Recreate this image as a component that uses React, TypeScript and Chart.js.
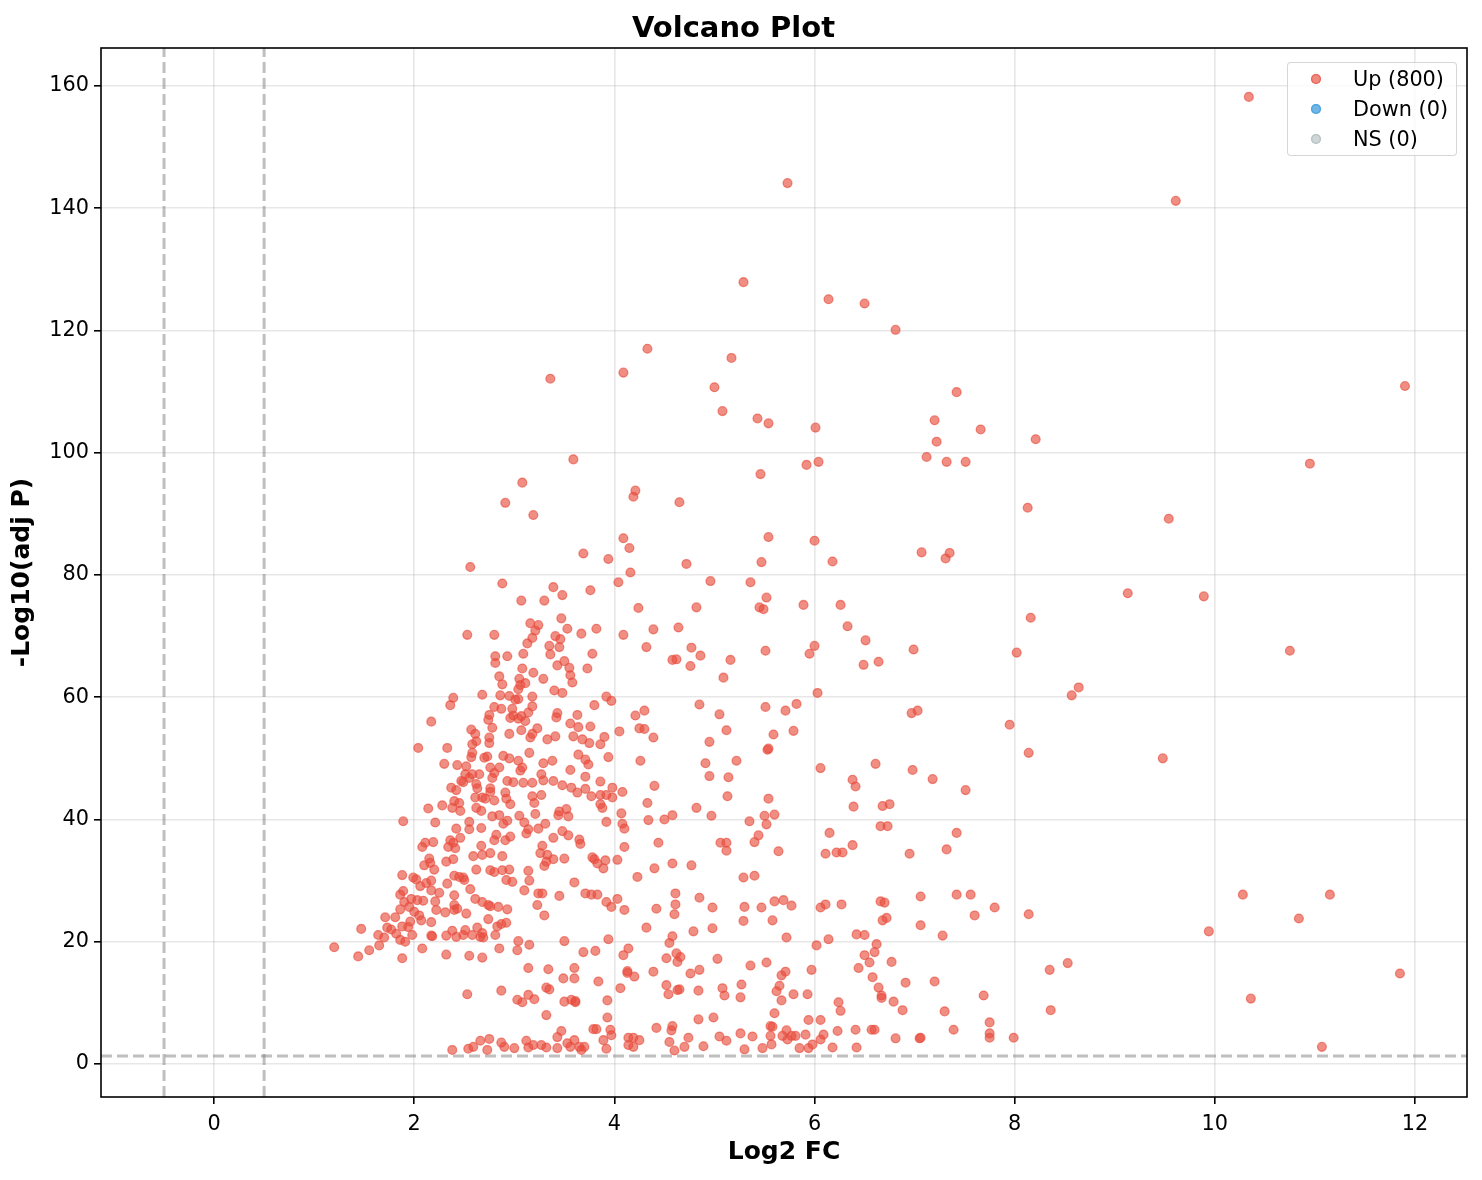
import React, { useEffect, useRef } from 'react';
import { Chart, registerables } from 'chart.js';

Chart.register(...registerables);

// axis setup
const xTicks = [0, 2, 4, 6, 8, 10, 12];
const yTicks = [0, 20, 40, 60, 80, 100, 120, 140, 160];
const xRange = [-1.13, 12.52];
const yRange = [-5.4, 166.2];
const fcCutoffs = [-0.5, 0.5];
const pCutoff = 1.301;

const legendLabels = ['Up (800)', 'Down (0)', 'NS (0)'];
const legendColors = ['rgba(231,76,60,0.65)', 'rgba(52,152,219,0.7)', 'rgba(149,165,166,0.45)'];

type Pt = [number, number];

// Up-regulated genes, [log2FC, -log10(adj p)]
const upHigh: Pt[] = [
  [10.34, 158.2], [9.61, 141.2], [5.73, 144.1], [5.29, 127.9], [6.14, 125.1], [6.5, 124.4], [6.81, 120.1],
  [4.33, 117], [5.17, 115.5], [3.36, 112.1], [4.09, 113.1], [5.0, 110.7], [5.08, 106.8], [5.43, 105.6],
  [5.54, 104.8], [6.01, 104.1], [7.42, 109.9], [7.2, 105.3], [7.66, 103.8], [7.22, 101.8], [7.12, 99.3],
  [7.32, 98.5], [7.51, 98.5], [5.92, 98], [6.04, 98.5], [5.46, 96.5], [3.59, 98.9], [3.08, 95.1],
  [2.91, 91.8], [3.19, 89.8], [4.21, 93.8], [4.19, 92.8], [4.65, 91.9], [4.09, 86], [5.54, 86.2], [6.0, 85.6],
  [11.9, 110.9], [10.95, 98.2], [9.54, 89.2], [8.13, 91], [8.21, 102.2],
];

const upCoreUpper: Pt[] = [
  [2.56, 81.3], [2.88, 78.6], [3.69, 83.5], [3.94, 82.6], [4.15, 84.4], [4.16, 80.4], [4.04, 78.8], [3.39, 78],
  [3.48, 76.7], [3.76, 77.5], [3.07, 75.8], [3.3, 75.8], [4.24, 74.6], [3.16, 72.1], [3.24, 71.8], [3.21, 70.9],
  [3.47, 72.9], [3.53, 71.2], [3.67, 70.4], [3.82, 71.2], [4.09, 70.2], [4.39, 71.1], [2.53, 70.2], [2.8, 70.2],
  [3.18, 69.7], [3.13, 68.8], [3.41, 70], [3.46, 69.5], [3.35, 68.4], [3.45, 68.2], [3.36, 67], [3.78, 67.1],
  [4.32, 68.2], [2.81, 66.7], [2.81, 65.6], [2.93, 66.7], [3.09, 67.1], [3.08, 64.7], [3.19, 64], [3.29, 63],
  [3.43, 65.2], [3.5, 65.9], [3.55, 64.8], [3.56, 63.6], [3.58, 62.4], [3.73, 64.7], [2.85, 63.4], [2.88, 62.1],
  [3.05, 63], [3.06, 62], [3.11, 62.3], [3.04, 61.3], [3.4, 61.1], [3.48, 60.7], [2.39, 59.9], [2.36, 58.7],
  [2.68, 60.4], [2.86, 60.3], [2.95, 60.2], [3.01, 59.6], [3.04, 59.7], [3.18, 60.1], [3.92, 60.1], [3.97, 59.4],
  [3.8, 58.7], [2.8, 58.4], [2.87, 58.1], [2.98, 58.1], [3.18, 58.5], [3.14, 57.5], [3.07, 56.9], [3.11, 56.1],
  [2.75, 57.1], [2.74, 56.3], [2.96, 56.6], [2.99, 57], [3.04, 56.5], [3.43, 57.4], [3.42, 56.7], [3.63, 57.1],
  [4.21, 57], [4.3, 57.8], [2.17, 56], [2.78, 55], [2.57, 54.7], [2.61, 54], [2.95, 54], [3.07, 54.6],
  [3.23, 54.9], [3.33, 53.1], [3.41, 53.6], [3.56, 55.7], [3.64, 55.1], [3.76, 55.2], [4.05, 54.4], [4.25, 54.9],
  [4.3, 54.8], [4.39, 53.4], [3.16, 53.4], [3.18, 54], [3.68, 53.1], [3.75, 52.5], [3.86, 52.3], [3.9, 53.5],
  [3.59, 53.6], [2.62, 52.8], [2.58, 52.3], [2.75, 53.4], [2.75, 52.5], [2.04, 51.7], [2.33, 51.7], [2.58, 50.9],
  [2.57, 50.2], [2.7, 50.1], [2.73, 50.3], [2.89, 50.4], [2.95, 50], [3.04, 49.6], [3.08, 48.5], [3.06, 48],
  [3.15, 50.9], [3.29, 49.2], [3.38, 49.6], [3.56, 48.1], [3.64, 50.6], [3.71, 49.8], [3.74, 49], [3.94, 50.2],
  [4.26, 49.6], [2.3, 49.1], [2.43, 48.9], [2.52, 48.7], [2.58, 47.4], [2.65, 47.4], [2.76, 48.5], [2.8, 47.6],
  [2.85, 48.5], [2.78, 46.8], [2.49, 46.1], [2.47, 46.3], [2.51, 47.4], [2.55, 46.8], [2.62, 45.8], [2.63, 45.1],
  [2.37, 45.2], [2.42, 44.8], [2.93, 46.3], [2.99, 46.1], [3.09, 46], [3.18, 46], [3.27, 47.4], [3.29, 46.4],
  [3.39, 46.3], [3.48, 45.6], [3.57, 45.2], [3.63, 44.4], [3.71, 47], [3.71, 45], [3.77, 43.8], [3.86, 46.2],
  [3.86, 44], [3.92, 44], [3.98, 45.2], [3.98, 43.6], [4.08, 44.5], [4.4, 45.5], [4.33, 42.7], [2.76, 45.1],
  [2.76, 44.5], [2.91, 44.4], [2.92, 43.4], [2.96, 42.5], [3.18, 43.8], [3.2, 42.7], [3.27, 44], [2.61, 43.6],
  [2.68, 43.6], [2.71, 43.4], [2.8, 43.1], [2.4, 43], [2.45, 42.7], [2.14, 41.8], [2.28, 42.3], [2.38, 41.9],
  [2.46, 41.4], [2.62, 41.9], [2.67, 41.4], [3.45, 41.3], [3.52, 41.7], [3.86, 42.5], [3.88, 41.9], [4.07, 41],
];

const upCoreLower: Pt[] = [
  [1.89, 39.7], [2.21, 39.5], [2.42, 38.5], [2.36, 36.6], [2.34, 35.5], [2.39, 36.2], [2.41, 35.3], [2.32, 33.1],
  [2.39, 33.5], [2.11, 36.2], [2.08, 35.5], [2.19, 36.3], [2.15, 33.6], [2.16, 32.9], [2.1, 32.5], [2.2, 31.8],
  [1.88, 30.9], [1.99, 30.5], [2.02, 30.2], [2.17, 30], [2.12, 29.6], [2.06, 29.1], [2.33, 29.5], [2.4, 30.8],
  [2.45, 30.6], [2.5, 30.1], [2.49, 30.5], [2.46, 37], [2.55, 38.4], [2.55, 39.6], [2.67, 38.6], [2.67, 35.7],
  [2.68, 34.2], [2.76, 34.5], [2.59, 34], [2.62, 31.8], [2.76, 31.7], [2.8, 31.4], [2.88, 34], [2.88, 31.7],
  [2.95, 31.8], [2.92, 30.1], [2.98, 29.8], [2.8, 36.6], [2.82, 37.5], [2.91, 36.6], [2.96, 37.2], [2.78, 40.5],
  [2.85, 40.7], [2.89, 39.3], [2.93, 39.8], [3.05, 40.6], [3.1, 39.5], [3.12, 37.7], [3.14, 38.4], [3.21, 40.9],
  [3.24, 38.5], [3.31, 39.3], [3.39, 37], [3.48, 38.1], [3.54, 37.4], [3.65, 36.7], [3.66, 36], [3.44, 40.7],
  [3.54, 40.5], [3.92, 39.6], [4.08, 39.3], [4.1, 38.5], [4.34, 39.9], [4.1, 35.5], [4.44, 36.2], [3.28, 35.7],
  [3.26, 34.5], [3.33, 34.2], [3.32, 33.1], [3.39, 33.5], [3.3, 32.4], [3.5, 33.6], [3.78, 33.8], [3.8, 33.5],
  [3.83, 32.8], [3.89, 32], [3.91, 33.3], [4.03, 33.4], [4.4, 32], [4.23, 30.6], [3.6, 29.7], [3.14, 31.6],
  [3.15, 30], [3.1, 28.4], [3.24, 27.9], [3.28, 27.9], [3.23, 26], [3.3, 24.3], [3.45, 27.5], [3.71, 27.9],
  [3.77, 27.7], [3.83, 27.7], [3.92, 26.5], [3.97, 25.7], [4.03, 27], [4.1, 25.2], [4.42, 25.4], [4.32, 22.3],
  [2.56, 28.6], [2.61, 27], [2.68, 26.5], [2.74, 26], [2.76, 25.8], [2.84, 25.7], [2.93, 25.3], [2.4, 27.6],
  [2.4, 26], [2.4, 25.2], [2.43, 25.4], [2.52, 24.6], [2.31, 24.8], [2.22, 25.2], [2.25, 28], [2.17, 28.4],
  [2.21, 26.6], [2.09, 26.7], [2.03, 26.8], [1.97, 27], [1.89, 28.3], [1.86, 27.7], [1.9, 26.5], [1.95, 25.7],
  [2.0, 24.9], [2.05, 24.3], [2.07, 23.5], [1.96, 23.3], [1.86, 25.3], [1.81, 24], [1.71, 24], [1.73, 22.3],
  [1.77, 22], [1.64, 21.1], [1.7, 20.7], [1.82, 21.3], [1.86, 20.3], [1.91, 20], [1.94, 22.4], [1.88, 22.5],
  [1.98, 21.1], [2.17, 23.2], [2.17, 21], [2.18, 20.9], [2.08, 18.9], [1.88, 17.3], [1.65, 19.4], [1.55, 18.6],
  [1.44, 17.6], [1.47, 22.1], [1.2, 19.1], [2.32, 21], [2.38, 21.8], [2.42, 20.8], [2.49, 21.1], [2.51, 21.9],
  [2.58, 21.1], [2.63, 22.3], [2.66, 20.8], [2.68, 21.4], [2.69, 20.7], [2.81, 21.1], [2.83, 22.5], [2.87, 22.9],
  [2.92, 23.1], [2.85, 18.9], [2.74, 23.7], [2.32, 17.9], [2.55, 17.7], [2.68, 17.4], [3.04, 20.1], [3.03, 18.6],
  [3.15, 19.5], [3.14, 15.7], [3.34, 15.5], [3.5, 20.1], [3.69, 18.3], [3.81, 18.5], [3.94, 20.4], [4.09, 17.8],
  [4.14, 18.9], [4.13, 15.2], [4.13, 14.9], [4.2, 14.3], [4.39, 15.1], [4.42, 5.9], [3.6, 15.7], [3.6, 14],
  [3.49, 14], [3.84, 13.5], [4.06, 12.4], [3.32, 12.5], [3.35, 12.2], [3.14, 11.3], [3.2, 10.6], [3.03, 10.5],
  [3.08, 10.1], [2.87, 12], [2.53, 11.4], [3.5, 10.2], [3.57, 10.5], [3.61, 10.3], [3.61, 10.1], [3.93, 10.4],
  [3.93, 7.6], [3.32, 8], [3.79, 5.7], [3.82, 5.7], [3.96, 5.6], [3.97, 4.7], [3.89, 3.9], [3.92, 2.5],
  [4.14, 4.3], [4.19, 4.3], [4.25, 3.9], [4.14, 3.1], [4.19, 2.8], [3.47, 5.4], [3.43, 4.4], [3.53, 3.4],
  [3.56, 2.8], [3.6, 3.9], [3.65, 2.8], [3.7, 2.8], [3.67, 2.3], [3.43, 2.6], [3.32, 2.7], [3.27, 3.1],
  [3.19, 3.1], [3.14, 2.7], [3.12, 3.8], [3.0, 2.6], [2.9, 2.8], [2.87, 3.5], [2.75, 4.1], [2.66, 3.8],
  [2.59, 2.8], [2.54, 2.5], [2.73, 2.3], [2.38, 2.3],
];

const upMidUpper: Pt[] = [
  [4.72, 81.8], [5.47, 82.1], [6.18, 82.2], [7.07, 83.7], [7.31, 82.7], [7.35, 83.6], [4.96, 79], [5.36, 78.8],
  [5.52, 76.3], [4.82, 74.7], [5.45, 74.7], [5.49, 74.4], [5.89, 75.1], [6.26, 75.1], [4.64, 71.4], [6.33, 71.6],
  [6.51, 69.3], [4.77, 68.1], [4.86, 66.8], [4.58, 66.1], [4.62, 66.2], [4.76, 65.1], [5.16, 66.1], [5.09, 63.2],
  [5.51, 67.6], [6.0, 68.4], [5.95, 67.1], [6.49, 65.3], [6.64, 65.8], [6.99, 67.8], [6.03, 60.7], [4.85, 58.8],
  [5.05, 57.2], [5.51, 58.4], [5.71, 57.8], [5.82, 58.9], [5.12, 54.6], [5.59, 53.9], [5.79, 54.5], [4.95, 52.7],
  [5.53, 51.4], [5.54, 51.6], [4.91, 49.2], [5.22, 49.6], [4.95, 47.1], [5.14, 46.9], [6.06, 48.4], [6.61, 49.1],
  [6.97, 57.4], [7.03, 57.8], [6.38, 46.5], [6.41, 45.4], [6.98, 48.1], [7.18, 46.6], [7.51, 44.8], [5.13, 43.8],
  [5.54, 43.4], [4.82, 41.9], [4.58, 40.7], [4.5, 40], [4.97, 40.6], [5.35, 39.7], [5.5, 40.6], [5.6, 40.8],
  [6.39, 42.1], [6.68, 42.2], [6.75, 42.5],
];

const upMidLower: Pt[] = [
  [5.52, 39.2], [5.44, 37.4], [5.4, 36.3], [6.66, 38.9], [6.73, 38.9], [5.06, 36.2], [5.12, 36.2], [5.12, 34.9],
  [5.64, 34.8], [6.15, 37.8], [6.11, 34.4], [6.22, 34.6], [6.28, 34.6], [6.38, 35.8], [6.95, 34.4], [7.32, 35.1],
  [7.42, 37.8], [4.58, 32.8], [4.77, 32.5], [5.29, 30.5], [5.4, 30.8], [4.61, 27.9], [4.61, 26.1], [4.6, 24.5],
  [4.85, 27.2], [4.98, 25.6], [5.3, 25.7], [5.47, 25.6], [5.6, 26.6], [5.69, 26.8], [5.77, 25.9], [5.29, 23.4],
  [5.58, 23.5], [5.72, 20.7], [6.06, 25.6], [6.11, 26.1], [6.27, 26.1], [6.66, 26.6], [6.7, 26.4], [6.68, 23.5],
  [6.72, 23.9], [7.06, 27.4], [7.06, 22.7], [7.42, 27.7], [7.56, 27.7], [7.6, 24.3], [7.8, 25.6], [7.28, 21],
  [4.79, 21.7], [4.98, 22.2], [4.58, 20.9], [4.55, 19.8], [4.52, 17.3], [4.62, 18.1], [4.66, 17.5], [4.63, 16.7],
  [5.03, 17.2], [4.76, 14.8], [4.85, 15.4], [4.52, 12.9], [4.54, 11.4], [4.63, 12.1], [4.65, 12.2], [4.84, 12],
  [5.08, 12.4], [5.1, 11.2], [5.27, 13], [5.26, 10.9], [5.36, 16.1], [5.52, 16.6], [5.67, 14.5], [5.71, 15.1],
  [5.65, 12.8], [5.62, 11.9], [5.67, 10.4], [5.79, 11.4], [5.93, 11.4], [5.97, 15.4], [6.02, 19.4], [6.14, 20.4],
  [6.42, 21.2], [6.5, 21.1], [6.62, 19.6], [6.6, 18.3], [6.5, 17.8], [6.55, 16.6], [6.44, 15.7], [6.77, 16.7],
  [6.58, 14.2], [6.64, 12.5], [6.67, 11.2], [6.67, 10.8], [6.79, 10.2], [6.88, 8.8], [6.91, 13.3], [7.2, 13.5],
  [7.3, 8.6], [7.69, 11.2], [6.24, 10.1], [6.26, 8.7], [5.6, 8.3], [4.84, 7.3], [4.99, 7.6], [4.58, 6.2],
  [4.57, 5.5], [4.55, 3.6], [4.6, 2.2], [4.7, 2.8], [4.74, 4.3], [4.89, 2.9], [5.05, 4.5], [5.12, 3.8],
  [5.26, 5], [5.3, 2.4], [5.38, 4.5], [5.48, 2.6], [5.56, 6.2], [5.58, 6.1], [5.56, 4.6], [5.57, 3.2],
  [5.68, 4.6], [5.72, 5.5], [5.73, 4], [5.77, 4.6], [5.81, 4.6], [5.85, 2.6], [5.91, 4.8], [5.94, 7.2],
  [5.94, 2.6], [5.98, 3.2], [6.06, 7.2], [6.06, 4], [6.09, 4.8], [6.18, 2.7], [6.23, 5.4], [6.41, 5.6],
  [6.42, 2.7], [6.57, 5.6], [6.6, 5.6], [6.81, 4.2], [7.05, 4.2], [7.06, 4.3], [7.39, 5.6], [7.75, 6.8],
  [7.75, 5], [7.75, 4.3], [7.99, 4.3],
];

const upOuter: Pt[] = [
  [9.13, 77], [9.89, 76.5], [8.16, 73], [8.02, 67.3], [10.75, 67.6], [8.64, 61.6], [8.57, 60.3], [7.95, 55.5],
  [8.14, 50.9], [9.48, 50], [8.14, 24.5], [9.94, 21.7], [10.28, 27.7], [11.15, 27.7], [10.84, 23.8], [8.35, 15.4],
  [8.53, 16.5], [8.36, 8.8], [10.36, 10.7], [11.07, 2.8], [11.85, 14.8],
];

const upPoints: Pt[] = [...upHigh, ...upCoreUpper, ...upCoreLower, ...upMidUpper, ...upMidLower, ...upOuter];
const downPoints: Pt[] = [];
const nsPoints: Pt[] = [];

const FONT = "'DejaVu Sans', sans-serif";

const toXY = (pts: Pt[]) => pts.map(([x, y]) => ({ x, y }));

// matplotlib draws all four spines, chart.js only the axis ones
const framePlugin = {
  id: 'frame',
  afterDatasetsDraw(chart: Chart) {
    const { ctx, chartArea } = chart;
    ctx.save();
    ctx.strokeStyle = '#000';
    ctx.lineWidth = 1.6;
    ctx.strokeRect(chartArea.left, chartArea.top, chartArea.right - chartArea.left, chartArea.bottom - chartArea.top);
    ctx.restore();
  },
};

const VolcanoChart = () => {
  const canvasRef = useRef<HTMLCanvasElement>(null);
  const chartRef = useRef<Chart | null>(null);

  useEffect(() => {
    if (!canvasRef.current) return;
    const ctx = canvasRef.current.getContext('2d');
    if (!ctx) return;

    if (chartRef.current) chartRef.current.destroy();

    const cutoffStyle = {
      showLine: true,
      borderColor: 'rgba(128,128,128,0.5)',
      borderWidth: 3,
      borderDash: [11, 5],
      pointRadius: 0,
      fill: false,
    };

    chartRef.current = new Chart(ctx, {
      type: 'scatter',
      data: {
        datasets: [
          {
            label: legendLabels[0],
            data: toXY(upPoints),
            backgroundColor: 'rgba(231,76,60,0.63)',
            borderColor: 'rgba(231,76,60,0.63)',
            borderWidth: 1.3,
            pointRadius: 4.4,
          },
          {
            label: legendLabels[1],
            data: toXY(downPoints),
            backgroundColor: legendColors[1],
            borderColor: legendColors[1],
            pointRadius: 4.4,
          },
          {
            label: legendLabels[2],
            data: toXY(nsPoints),
            backgroundColor: legendColors[2],
            borderColor: legendColors[2],
            pointRadius: 4.4,
          },
          ...fcCutoffs.map((fc) => ({
            label: 'fc',
            data: [{ x: fc, y: yRange[0] }, { x: fc, y: yRange[1] }],
            ...cutoffStyle,
          })),
          {
            label: 'p',
            data: [{ x: xRange[0], y: pCutoff }, { x: xRange[1], y: pCutoff }],
            ...cutoffStyle,
          },
        ],
      },
      options: {
        responsive: true,
        maintainAspectRatio: false,
        animation: false,
        layout: { padding: { left: 0, right: 15, top: 0, bottom: 0 } },
        scales: {
          x: {
            type: 'linear',
            min: xRange[0],
            max: xRange[1],
            afterBuildTicks: (scale: any) => {
              scale.ticks = xTicks.map((v) => ({ value: v }));
            },
            afterFit: (scale: any) => {
              scale.height = 83;
            },
            ticks: { color: '#000', font: { family: FONT, size: 20.8 }, padding: 8, maxRotation: 0 },
            grid: {
              color: 'rgba(176,176,176,0.3)',
              lineWidth: 1.6,
              tickColor: '#000',
              tickWidth: 1.6,
              tickLength: 7,
            },
            border: { display: false },
            title: {
              display: true,
              text: 'Log2 FC',
              color: '#000',
              font: { family: FONT, size: 25, weight: 'bold' },
              // for a bottom axis chart.js measures from the outer edge with padding.bottom
              padding: { top: 0, bottom: 13 },
            },
          },
          y: {
            type: 'linear',
            min: yRange[0],
            max: yRange[1],
            afterBuildTicks: (scale: any) => {
              scale.ticks = yTicks.map((v) => ({ value: v }));
            },
            afterFit: (scale: any) => {
              scale.width = 101;
            },
            ticks: { color: '#000', font: { family: FONT, size: 20.8 }, padding: 5 },
            grid: {
              color: 'rgba(176,176,176,0.3)',
              lineWidth: 1.6,
              tickColor: '#000',
              tickWidth: 1.6,
              tickLength: 7,
            },
            border: { display: false },
            title: {
              display: true,
              text: '-Log10(adj P)',
              color: '#000',
              font: { family: FONT, size: 25, weight: 'bold' },
              padding: { top: 7, bottom: 0 },
            },
          },
        },
        plugins: {
          legend: { display: false },
          tooltip: { enabled: false },
          title: {
            display: true,
            text: 'Volcano Plot',
            color: '#000',
            font: { family: FONT, size: 29, weight: 'bold' },
            padding: { top: 12, bottom: 1.2 },
          },
        },
      },
      plugins: [framePlugin],
    } as any);

    return () => {
      if (chartRef.current) {
        chartRef.current.destroy();
        chartRef.current = null;
      }
    };
  }, []);

  return (
    <div style={{ position: 'relative', width: 1482, height: 1180, background: '#fff' }}>
      <canvas ref={canvasRef}></canvas>
      <div
        style={{
          position: 'absolute',
          left: 1287,
          top: 62,
          width: 170,
          height: 94,
          boxSizing: 'border-box',
          border: '1.6px solid rgba(204,204,204,0.8)',
          borderRadius: 4,
          background: 'rgba(255,255,255,0.8)',
          paddingTop: 1,
          fontFamily: FONT,
          fontSize: 20.8,
          color: '#000',
        }}
      >
        {legendLabels.map((label, i) => (
          <div key={label} style={{ display: 'flex', alignItems: 'center', height: 30 }}>
            <span
              style={{
                display: 'inline-block',
                width: 10,
                height: 10,
                borderRadius: '50%',
                background: legendColors[i],
                boxShadow: `inset 0 0 0 1.3px ${legendColors[i]}`,
                marginLeft: 23,
                marginRight: 32,
              }}
            />
            <span style={{ lineHeight: '30px' }}>{label}</span>
          </div>
        ))}
      </div>
    </div>
  );
};

export default function App() {
  useEffect(() => {
    document.body.style.margin = '0';
  }, []);
  return <VolcanoChart />;
}
